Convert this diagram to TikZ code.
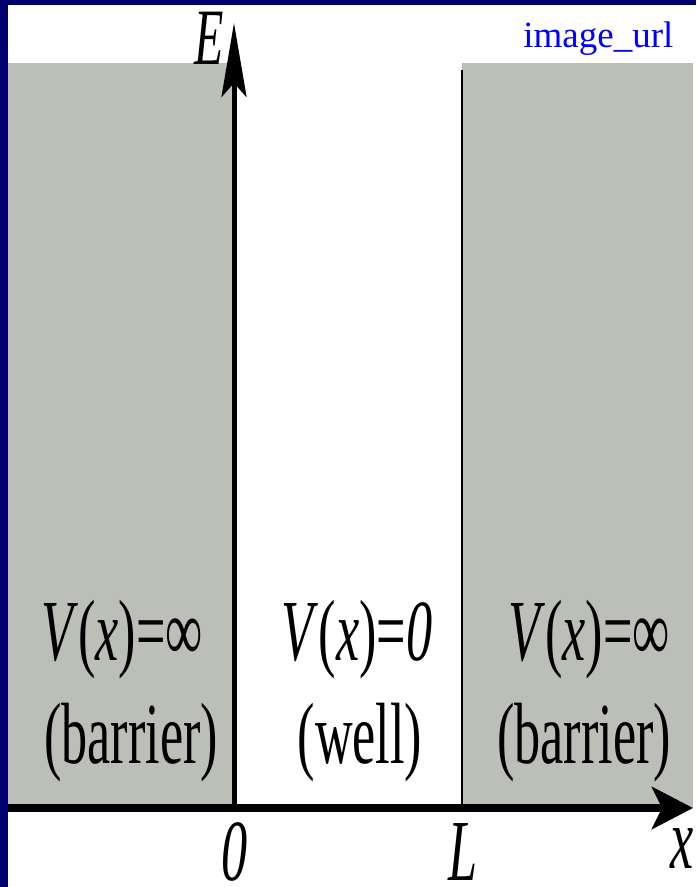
\documentclass[tikz,border=0pt]{standalone}
\usepackage{fontspec}
\setmainfont{Liberation Serif}
\usetikzlibrary{arrows.meta}
\definecolor{navyframe}{RGB}{0,0,110}
\definecolor{barriergray}{RGB}{188,190,184}
\definecolor{urlblue}{RGB}{0,0,255}
\newcommand{\hsq}[1]{\scalebox{0.6}[1]{#1}}
\begin{document}
\begin{tikzpicture}[x=0.5pt,y=-0.5pt,
  lbl/.style={inner sep=0pt, anchor=base, font=\fontsize{43.5}{52}\selectfont},
  axlbl/.style={lbl, text height=29pt, text depth=0pt},
  barrierbox/.style={fill=barriergray, draw=none},
  axisline/.style={draw=black, line width=#1},
]
\useasboundingbox (0,0) rectangle (696,887);
\clip (0,0) rectangle (696,887);
\fill[navyframe] (0,0) rectangle (696,887);
\fill[white] (8,5) rectangle (696,887);
\path[barrierbox] (8,63) rectangle (234,808);
\path[barrierbox] (462,63) rectangle (693,808);
\coordinate (O) at (234,808);
\coordinate (Etip) at (234,23);
\coordinate (xstart) at (8,808);
\coordinate (xtip) at (693,808);
\coordinate (Lbot) at (462,808);
\coordinate (Ltop) at (462,70);
\draw[axisline=1pt] (Lbot) -- (Ltop);
\draw[axisline=4pt, -{Stealth[length=20.5pt,width=21pt,inset=5pt]}] (xstart) -- (xtip);
\draw[axisline=2.5pt, -{Stealth[length=37pt,width=12.5pt,inset=7pt]}] (O) -- (Etip);
\node[axlbl, font=\fontsize{40}{48}\selectfont, text height=26pt] (Elbl) at (209,65) {\hsq{\textit{E}}};
\node[lbl] (v1) at (122,660) {\hsq{\textit{V}(\textit{x})=∞}};
\node[lbl] (b1) at (131,763) {\hsq{(barrier)}};
\node[lbl] (v2) at (357,660) {\hsq{\textit{V}(\textit{x})=\textit{0}}};
\node[lbl] (w) at (360,763) {\hsq{(well)}};
\node[lbl] (v3) at (589,660) {\hsq{\textit{V}(\textit{x})=∞}};
\node[lbl] (b3) at (584,763) {\hsq{(barrier)}};
\node[axlbl] (zero) at (235,880) {\hsq{\textit{0}}};
\node[axlbl] (Llbl) at (463,880) {\hsq{\textit{L}}};
\node[axlbl, text height=20pt] (xlbl) at (682,868) {\hsq{\textit{x}}};
\node[inner sep=0pt, anchor=base west, text=urlblue, font=\fontsize{18.5}{22}\selectfont] (url) at (523,48) {image\_url};
\end{tikzpicture}
\end{document}
